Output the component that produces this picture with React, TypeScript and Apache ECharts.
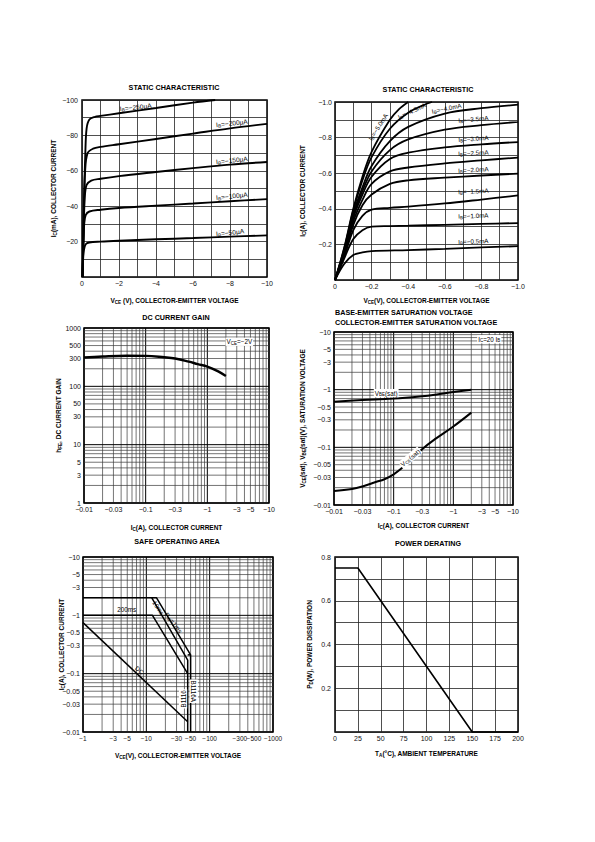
import React, { useEffect, useRef } from 'react';
import * as echarts from 'echarts';

const FONT = '"Liberation Sans", Arial, Helvetica, sans-serif';
const M = '\u2212';

// ---------- Chart 1: static characteristic (Ic mA vs Vce V), magnitudes ----------
const sc1Ib50 = [[0.03, 0], [0.06, 10], [0.1, 15], [0.2, 18.5], [0.4, 19.5], [1, 20], [2, 20.5], [4, 21.3], [6, 22], [8, 22.8], [10, 23.5]];
const sc1Ib100 = [[0.03, 0], [0.08, 20], [0.12, 30], [0.2, 35], [0.4, 37], [1, 38], [2, 39], [4, 40.3], [6, 41.5], [8, 42.8], [10, 44]];
const sc1Ib150 = [[0.03, 0], [0.1, 30], [0.15, 45], [0.25, 52], [0.5, 54.5], [1, 55.5], [2, 57], [4, 59.3], [6, 61.5], [8, 63.5], [10, 65]];
const sc1Ib200 = [[0.03, 0], [0.1, 35], [0.17, 60], [0.3, 70], [0.6, 72.5], [1, 73.5], [2, 75], [4, 78], [6, 81], [8, 84], [10, 86.5]];
const sc1Ib250 = [[0.03, 0], [0.1, 40], [0.18, 70], [0.25, 84], [0.4, 89], [0.7, 90.5], [1, 91], [2, 92.5], [4, 95.5], [6, 98.5], [7.2, 100]];
const sc1CurveNames = ['-250', '-200', '-150', '-100', '-50'];
const sc1LabelAnchors = [[2.9, 96], [8.1, 87], [8.1, 66], [8.1, 45.8], [8.0, 25.2]];

// ---------- Chart 2: static characteristic (Ic A vs Vce V), magnitudes ----------
const sc2Ib05 = [[0, 0], [0.05, 0.09], [0.1, 0.14], [0.15, 0.155], [0.2, 0.162], [0.4, 0.168], [0.6, 0.175], [0.8, 0.183], [1.0, 0.19]];
const sc2Ib10 = [[0, 0], [0.05, 0.12], [0.1, 0.23], [0.15, 0.28], [0.2, 0.3], [0.3, 0.303], [0.4, 0.305], [0.6, 0.31], [0.8, 0.315], [1.0, 0.32]];
const sc2Ib15 = [[0, 0], [0.05, 0.13], [0.1, 0.28], [0.15, 0.36], [0.2, 0.395], [0.3, 0.405], [0.4, 0.412], [0.6, 0.43], [0.8, 0.452], [1.0, 0.475]];
const sc2Ib20 = [[0, 0], [0.05, 0.14], [0.1, 0.31], [0.15, 0.42], [0.2, 0.48], [0.3, 0.54], [0.4, 0.56], [0.6, 0.575], [0.8, 0.587], [1.0, 0.598]];
const sc2Ib25 = [[0, 0], [0.05, 0.15], [0.1, 0.33], [0.15, 0.45], [0.2, 0.54], [0.3, 0.61], [0.4, 0.632], [0.6, 0.655], [0.8, 0.672], [1.0, 0.688]];
const sc2Ib30 = [[0, 0], [0.05, 0.155], [0.1, 0.35], [0.15, 0.48], [0.2, 0.58], [0.3, 0.68], [0.4, 0.715], [0.6, 0.745], [0.8, 0.762], [1.0, 0.775]];
const sc2Ib35 = [[0, 0], [0.05, 0.16], [0.1, 0.36], [0.15, 0.5], [0.2, 0.61], [0.3, 0.73], [0.4, 0.79], [0.6, 0.845], [0.8, 0.87], [1.0, 0.888]];
const sc2Ib40 = [[0, 0], [0.05, 0.165], [0.1, 0.37], [0.15, 0.52], [0.2, 0.64], [0.3, 0.78], [0.4, 0.86], [0.6, 0.935], [0.8, 0.965], [1.0, 0.985]];
const sc2Ib45 = [[0, 0], [0.05, 0.175], [0.1, 0.39], [0.15, 0.56], [0.2, 0.69], [0.3, 0.85], [0.4, 0.94], [0.5, 0.99], [0.53, 1.0]];
const sc2Ib50 = [[0, 0], [0.05, 0.18], [0.1, 0.4], [0.15, 0.58], [0.2, 0.72], [0.3, 0.9], [0.35, 0.96], [0.4, 1.0]];
const sc2CurveNames = ['-5.0mA', '-4.5mA', '-4.0mA', '-3.5mA', '-3.0mA', '-2.5mA', '-2.0mA', '-1.5mA', '-1.0mA', '-0.5mA'];
const sc2LabelAnchors = [[0.235, 0.86, 58], [0.42, 0.95, 25], [0.61, 0.965, 12], [0.756, 0.905, 5], [0.756, 0.795, 4], [0.756, 0.715, 3], [0.756, 0.62, 3], [0.756, 0.5, 3], [0.756, 0.362, 2], [0.756, 0.218, 2]];

// ---------- Chart 3: DC current gain ----------
const gainIc = [0.01, 0.02, 0.05, 0.1, 0.2, 0.3, 0.5, 0.7, 1, 1.5, 2];
const gainHfe = [312, 325, 335, 333, 315, 300, 265, 240, 218, 180, 150];
const gainXGrid = [0.01, 0.02, 0.03, 0.04, 0.05, 0.06, 0.07, 0.08, 0.09, 0.1, 0.2, 0.3, 0.4, 0.5, 0.6, 0.7, 0.8, 0.9, 1, 2, 3, 4, 5, 6, 7, 8, 9, 10];
const gainYGrid = [1, 2, 3, 4, 5, 6, 7, 8, 9, 10, 20, 30, 40, 50, 60, 70, 80, 90, 100, 200, 300, 400, 500, 600, 700, 800, 900, 1000];
const gainXLabels = [0.01, 0.03, 0.1, 0.3, 1, 3, 5, 10];
const gainYLabels = [1, 3, 5, 10, 30, 50, 100, 300, 500, 1000];

// ---------- Chart 4: saturation voltages ----------
const vbeIc = [0.01, 0.03, 0.1, 0.3, 0.5, 1, 2];
const vbeSat = [0.62, 0.66, 0.7, 0.77, 0.82, 0.91, 1.0];
const vceIc = [0.01, 0.02, 0.03, 0.05, 0.07, 0.1, 0.15, 0.2, 0.3, 0.5, 1, 2];
const vceSat = [0.0175, 0.019, 0.021, 0.025, 0.028, 0.034, 0.047, 0.062, 0.093, 0.14, 0.23, 0.4];
const satXGrid = [0.01, 0.02, 0.03, 0.04, 0.05, 0.06, 0.07, 0.08, 0.09, 0.1, 0.2, 0.3, 0.4, 0.5, 0.6, 0.7, 0.8, 0.9, 1, 2, 3, 4, 5, 6, 7, 8, 9, 10];
const satYGrid = [0.01, 0.02, 0.03, 0.04, 0.05, 0.06, 0.07, 0.08, 0.09, 0.1, 0.2, 0.3, 0.4, 0.5, 0.6, 0.7, 0.8, 0.9, 1, 2, 3, 4, 5, 6, 7, 8, 9, 10];
const satXLabels = [0.01, 0.03, 0.1, 0.3, 1, 3, 5, 10];
const satYLabels = [0.01, 0.03, 0.05, 0.1, 0.3, 0.5, 1, 3, 5, 10];

// ---------- Chart 5: safe operating area ----------
const soa1ms = [[1, 2], [14.5, 2], [50, 0.21], [50, 0.01]];
const soa10ms = [[12.2, 2], [45, 0.17], [45, 0.01]];
const soa200ms = [[1, 1], [12.5, 1], [45, 0.1]];
const soaDC = [[1, 0.75], [45, 0.015]];
const soaTop = [[45, 0.21], [50, 0.21]];
const soaXGrid = [1, 2, 3, 4, 5, 6, 7, 8, 9, 10, 20, 30, 40, 50, 60, 70, 80, 90, 100, 200, 300, 400, 500, 600, 700, 800, 900, 1000];
const soaYGrid = [0.01, 0.02, 0.03, 0.04, 0.05, 0.06, 0.07, 0.08, 0.09, 0.1, 0.2, 0.3, 0.4, 0.5, 0.6, 0.7, 0.8, 0.9, 1, 2, 3, 4, 5, 6, 7, 8, 9, 10];
const soaXLabels = [1, 3, 5, 10, 30, 50, 100, 300, 500, 1000];
const soaYLabels = [0.01, 0.03, 0.05, 0.1, 0.3, 0.5, 1, 3, 5, 10];

// ---------- Chart 6: power derating ----------
const derTemp = [0, 25, 150, 200];
const derPower = [0.75, 0.75, 0, 0];

const MAJOR = [0.01, 0.1, 1, 10, 100, 1000];

const subRich = {
  s: { fontSize: 4.6, fontWeight: 'bold', verticalAlign: 'bottom', lineHeight: 5, fontFamily: FONT, color: '#000' },
};
const nameStyle = { fontSize: 6.5, fontWeight: 'bold', color: '#000', fontFamily: FONT, lineHeight: 9, rich: subRich };

function curve(g: number, data: number[][], width = 1.8, smooth: any = 0.35) {
  return {
    type: 'line', xAxisIndex: g, yAxisIndex: g, data, showSymbol: false, symbol: 'none',
    smooth, lineStyle: { color: '#000', width }, z: 3, silent: true, clip: false,
  };
}

function rt(parts: string[][]) {
  return parts.map(([n, s]) => (n ? `{n|${n}}` : '') + (s ? `{s|${s}}` : '')).join('');
}

type Note = { x: number; y: number; text: string; rot?: number; bg?: boolean };
function notes(g: number, items: Note[], fs = 6.3) {
  return {
    type: 'custom', xAxisIndex: g, yAxisIndex: g, silent: true, z: 6, clip: false,
    data: items.map((it) => [it.x, it.y]),
    renderItem: (params: any, api: any) => {
      const it = items[params.dataIndex];
      const p = api.coord([api.value(0), api.value(1)]);
      return {
        type: 'text', x: p[0], y: p[1], rotation: ((it.rot || 0) * Math.PI) / 180,
        style: {
          legacy: false,
          text: it.text, fill: '#000', font: `${fs}px ${FONT}`,
          align: 'center', verticalAlign: 'middle',
          backgroundColor: it.bg ? '#fff' : undefined, padding: it.bg ? [0, 1, 0, 1] : undefined,
          rich: {
            n: { fontSize: fs, fill: '#000', verticalAlign: 'middle', lineHeight: fs + 2, fontFamily: FONT },
            s: { fontSize: fs * 0.72, fill: '#000', verticalAlign: 'bottom', lineHeight: 4, fontFamily: FONT },
          },
        },
      };
    },
  };
}

function logGrid(g: number, xr: number[], yr: number[], xGrid: number[], yGrid: number[], xLab: number[], yLab: number[], xFmt: (v: number) => string, yFmt: (v: number) => string, xFs = 7) {
  const txt = (x: number, y: number, text: string, align: string, valign: string, fs: number) => ({
    type: 'text', x, y,
    style: { text, fill: '#111', font: `${fs}px ${FONT}`, align, verticalAlign: valign, textAlign: align, textVerticalAlign: valign },
  });
  const v = {
    type: 'custom', xAxisIndex: g, yAxisIndex: g, silent: true, z: 1, clip: false,
    data: xGrid.map((x) => [x, yr[0]]),
    renderItem: (_p: any, api: any) => {
      const x = api.value(0);
      const a = api.coord([x, yr[0]]);
      const b = api.coord([x, yr[1]]);
      const mj = MAJOR.indexOf(x) >= 0;
      const ch: any[] = [{ type: 'line', shape: { x1: a[0], y1: a[1], x2: b[0], y2: b[1] }, style: { stroke: mj ? '#000' : '#3a3a3a', lineWidth: mj ? 1 : 0.7 } }];
      if (xLab.indexOf(x) >= 0) ch.push(txt(a[0], a[1] + 3, xFmt(x), 'center', 'top', xFs));
      return { type: 'group', children: ch };
    },
  };
  const h = {
    type: 'custom', xAxisIndex: g, yAxisIndex: g, silent: true, z: 1, clip: false,
    data: yGrid.map((y) => [xr[0], y]),
    renderItem: (_p: any, api: any) => {
      const y = api.value(1);
      const a = api.coord([xr[0], y]);
      const b = api.coord([xr[1], y]);
      const mj = MAJOR.indexOf(y) >= 0;
      const ch: any[] = [{ type: 'line', shape: { x1: a[0], y1: a[1], x2: b[0], y2: b[1] }, style: { stroke: mj ? '#000' : '#3a3a3a', lineWidth: mj ? 1 : 0.7 } }];
      if (yLab.indexOf(y) >= 0) ch.push(txt(a[0] - 3, a[1], yFmt(y), 'right', 'middle', 7));
      return { type: 'group', children: ch };
    },
  };
  return [v, h];
}

const neg = (v: number) => M + String(v);
const hidden = { axisLabel: { show: false }, axisTick: { show: false }, splitLine: { show: false }, axisLine: { show: false } };
const lab = { fontSize: 7, color: '#111', fontFamily: FONT };
const split = { show: true, lineStyle: { color: '#222', width: 0.8 } };

function buildOption() {
  const grid = [
    { left: 82, top: 100, width: 185, height: 177 },
    { left: 335, top: 102, width: 183, height: 178 },
    { left: 84, top: 328, width: 185, height: 175 },
    { left: 334, top: 332, width: 179, height: 173 },
    { left: 83, top: 557, width: 190, height: 175 },
    { left: 335, top: 557, width: 183, height: 175 },
  ].map((g) => ({ ...g, show: true, borderColor: '#000', borderWidth: 1.5, containLabel: false }));

  const xAxis: any[] = [
    {
      gridIndex: 0, type: 'value', min: 0, max: 10, interval: 1, splitLine: split, axisTick: { show: false }, axisLine: { show: false },
      axisLabel: { ...lab, margin: 3, formatter: (v: number) => (v === 0 ? '0' : v % 2 === 0 ? M + v : '') },
      name: 'V{s|CE} (V), COLLECTOR-EMITTER VOLTAGE', nameLocation: 'middle', nameGap: 19, nameTextStyle: nameStyle,
    },
    {
      gridIndex: 1, type: 'value', min: 0, max: 1, interval: 0.1, splitLine: split, axisTick: { show: false }, axisLine: { show: false },
      axisLabel: { ...lab, margin: 3, formatter: (v: number) => { const k = Math.round(v * 10); return k === 0 ? '0' : k % 2 === 0 ? M + (k / 10).toFixed(1) : ''; } },
      name: 'V{s|CE}(V), COLLECTOR-EMITTER VOLTAGE', nameLocation: 'middle', nameGap: 16, nameTextStyle: nameStyle,
    },
    { gridIndex: 2, type: 'log', logBase: 10, min: 0.01, max: 10, ...hidden, name: 'I{s|C}(A), COLLECTOR CURRENT', nameLocation: 'middle', nameGap: 20, nameTextStyle: nameStyle },
    { gridIndex: 3, type: 'log', logBase: 10, min: 0.01, max: 10, ...hidden, name: 'I{s|C}(A), COLLECTOR CURRENT', nameLocation: 'middle', nameGap: 16, nameTextStyle: nameStyle },
    { gridIndex: 4, type: 'log', logBase: 10, min: 1, max: 1000, ...hidden, name: 'V{s|CE}(V), COLLECTOR-EMITTER VOLTAGE', nameLocation: 'middle', nameGap: 19, nameTextStyle: nameStyle },
    {
      gridIndex: 5, type: 'value', min: 0, max: 200, interval: 25, splitLine: split, axisTick: { show: false }, axisLine: { show: false },
      axisLabel: { ...lab, margin: 3 },
      name: 'T{s|A}(°C), AMBIENT TEMPERATURE', nameLocation: 'middle', nameGap: 17, nameTextStyle: nameStyle,
    },
  ];
  const yAxis: any[] = [
    {
      gridIndex: 0, type: 'value', min: 0, max: 100, interval: 10, splitLine: split, axisTick: { show: false }, axisLine: { show: false },
      axisLabel: { ...lab, margin: 4, formatter: (v: number) => (v > 0 && v % 20 === 0 ? M + v : '') },
      name: 'I{s|C}(mA), COLLECTOR CURRENT', nameLocation: 'middle', nameRotate: 90, nameGap: 20, nameTextStyle: nameStyle,
    },
    {
      gridIndex: 1, type: 'value', min: 0, max: 1, interval: 0.1, splitLine: split, axisTick: { show: false }, axisLine: { show: false },
      axisLabel: { ...lab, margin: 3, formatter: (v: number) => { const k = Math.round(v * 10); return k > 0 && k % 2 === 0 ? M + (k / 10).toFixed(1) : ''; } },
      name: 'I{s|C}(A), COLLECTOR CURRENT', nameLocation: 'middle', nameRotate: 90, nameGap: 28, nameTextStyle: nameStyle,
    },
    { gridIndex: 2, type: 'log', logBase: 10, min: 1, max: 1000, ...hidden, name: 'h{s|FE}, DC CURRENT GAIN', nameLocation: 'middle', nameRotate: 90, nameGap: 21, nameTextStyle: nameStyle },
    { gridIndex: 3, type: 'log', logBase: 10, min: 0.01, max: 10, ...hidden, name: 'V{s|CE}(sat), V{s|BE}(sat)(V), SATURATION VOLTAGE', nameLocation: 'middle', nameRotate: 90, nameGap: 27, nameTextStyle: nameStyle },
    { gridIndex: 4, type: 'log', logBase: 10, min: 0.01, max: 10, ...hidden, name: 'I{s|C}(A), COLLECTOR CURRENT', nameLocation: 'middle', nameRotate: 90, nameGap: 17, nameTextStyle: nameStyle },
    {
      gridIndex: 5, type: 'value', min: 0, max: 0.8, interval: 0.1, splitLine: split, axisTick: { show: false }, axisLine: { show: false },
      axisLabel: { ...lab, margin: 4, formatter: (v: number) => { const k = Math.round(v * 10); return k > 0 && k % 2 === 0 ? (k / 10).toFixed(1) : ''; } },
      name: 'P{s|D}(W), POWER DISSIPATION', nameLocation: 'middle', nameRotate: 90, nameGap: 21, nameTextStyle: nameStyle,
    },
  ];

  const sc1 = [sc1Ib250, sc1Ib200, sc1Ib150, sc1Ib100, sc1Ib50];
  const sc2 = [sc2Ib50, sc2Ib45, sc2Ib40, sc2Ib35, sc2Ib30, sc2Ib25, sc2Ib20, sc2Ib15, sc2Ib10, sc2Ib05];

  const series: any[] = [];
  sc1.forEach((d) => series.push(curve(0, d, 1.9)));
  series.push(notes(0, sc1CurveNames.map((n, i) => ({ x: sc1LabelAnchors[i][0], y: sc1LabelAnchors[i][1], text: rt([['I', 'B'], [`=${n.replace('-', M)}µA`, '']]), rot: 6 })), 6.6));

  sc2.forEach((d) => series.push(curve(1, d, 1.8)));
  series.push(notes(1, sc2CurveNames.map((n, i) => ({ x: sc2LabelAnchors[i][0], y: sc2LabelAnchors[i][1], text: rt([['I', 'B'], [`=${n.replace('-', M)}`, '']]), rot: sc2LabelAnchors[i][2] })), 6.3));

  series.push(...logGrid(2, [0.01, 10], [1, 1000], gainXGrid, gainYGrid, gainXLabels, gainYLabels, neg, (v) => String(v)));
  series.push(curve(2, gainIc.map((x, i) => [x, gainHfe[i]]), 2.4, 0.4));
  series.push(notes(2, [{ x: 3.3, y: 580, text: rt([['V', 'CE'], [`=${M}2V`, '']]), bg: true }]));

  series.push(...logGrid(3, [0.01, 10], [0.01, 10], satXGrid, satYGrid, satXLabels, satYLabels, neg, neg));
  series.push(curve(3, vbeIc.map((x, i) => [x, vbeSat[i]]), 2, 0.4));
  series.push(curve(3, vceIc.map((x, i) => [x, vceSat[i]]), 2, 0.4));
  series.push(notes(3, [
    { x: 4.0, y: 7.5, text: rt([['I', 'C'], ['=20 I', 'B']]), bg: true },
    { x: 0.075, y: 0.87, text: rt([['V', 'BE'], ['(sat)', '']]), bg: true },
    { x: 0.19, y: 0.066, text: rt([['V', 'CE'], ['(sat)', '']]), rot: 40, bg: true },
  ]));

  series.push(...logGrid(4, [1, 1000], [0.01, 10], soaXGrid, soaYGrid, soaXLabels, soaYLabels, neg, neg, 6.5));
  [soa1ms, soa10ms, soa200ms, soaDC, soaTop].forEach((d) => series.push(curve(4, d, 1.5, false)));
  series.push(notes(4, [
    { x: 4.9, y: 1.25, text: rt([['200ms', '']]) },
    { x: 15.5, y: 1.35, text: rt([['10ms', '']]), rot: -55 },
    { x: 27, y: 0.75, text: rt([['P', 'W'], ['=1ms', '']]), rot: -52 },
    { x: 7.8, y: 0.115, text: rt([['DC', '']]), rot: -40 },
    { x: 38, y: 0.037, text: rt([['B1116', '']]), rot: 90, bg: true },
    { x: 56, y: 0.05, text: rt([['B1116A', '']]), rot: -90, bg: true },
  ]));

  series.push(curve(5, derTemp.map((t, i) => [t, derPower[i]]), 1.6, false));

  const title = (text: string, x: number, y: number, align = 'center') => ({
    type: 'text', x, y, silent: true,
    style: { text, fill: '#000', font: `bold 7.2px ${FONT}`, textAlign: align, align, textVerticalAlign: 'middle', verticalAlign: 'middle' },
  });

  return {
    animation: false,
    textStyle: { fontFamily: FONT },
    backgroundColor: '#fff',
    grid, xAxis, yAxis, series,
    graphic: [
      title('STATIC CHARACTERISTIC', 174, 87),
      title('STATIC CHARACTERISTIC', 428, 89),
      title('DC CURRENT GAIN', 176, 317),
      title('BASE-EMITTER SATURATION VOLTAGE', 335, 312, 'left'),
      title('COLLECTOR-EMITTER SATURATION VOLTAGE', 335, 322, 'left'),
      title('SAFE OPERATING AREA', 177, 541),
      title('POWER DERATING', 428, 543),
    ],
  };
}

export default function App() {
  const ref = useRef<HTMLDivElement>(null);
  useEffect(() => {
    if (!ref.current) return;
    const chart = echarts.init(ref.current, undefined, { renderer: 'svg' });
    chart.setOption(buildOption() as any);
    return () => chart.dispose();
  }, []);
  return <div ref={ref} style={{ position: 'absolute', left: 0, top: 0, width: 595, height: 842, background: '#fff' }} />;
}
